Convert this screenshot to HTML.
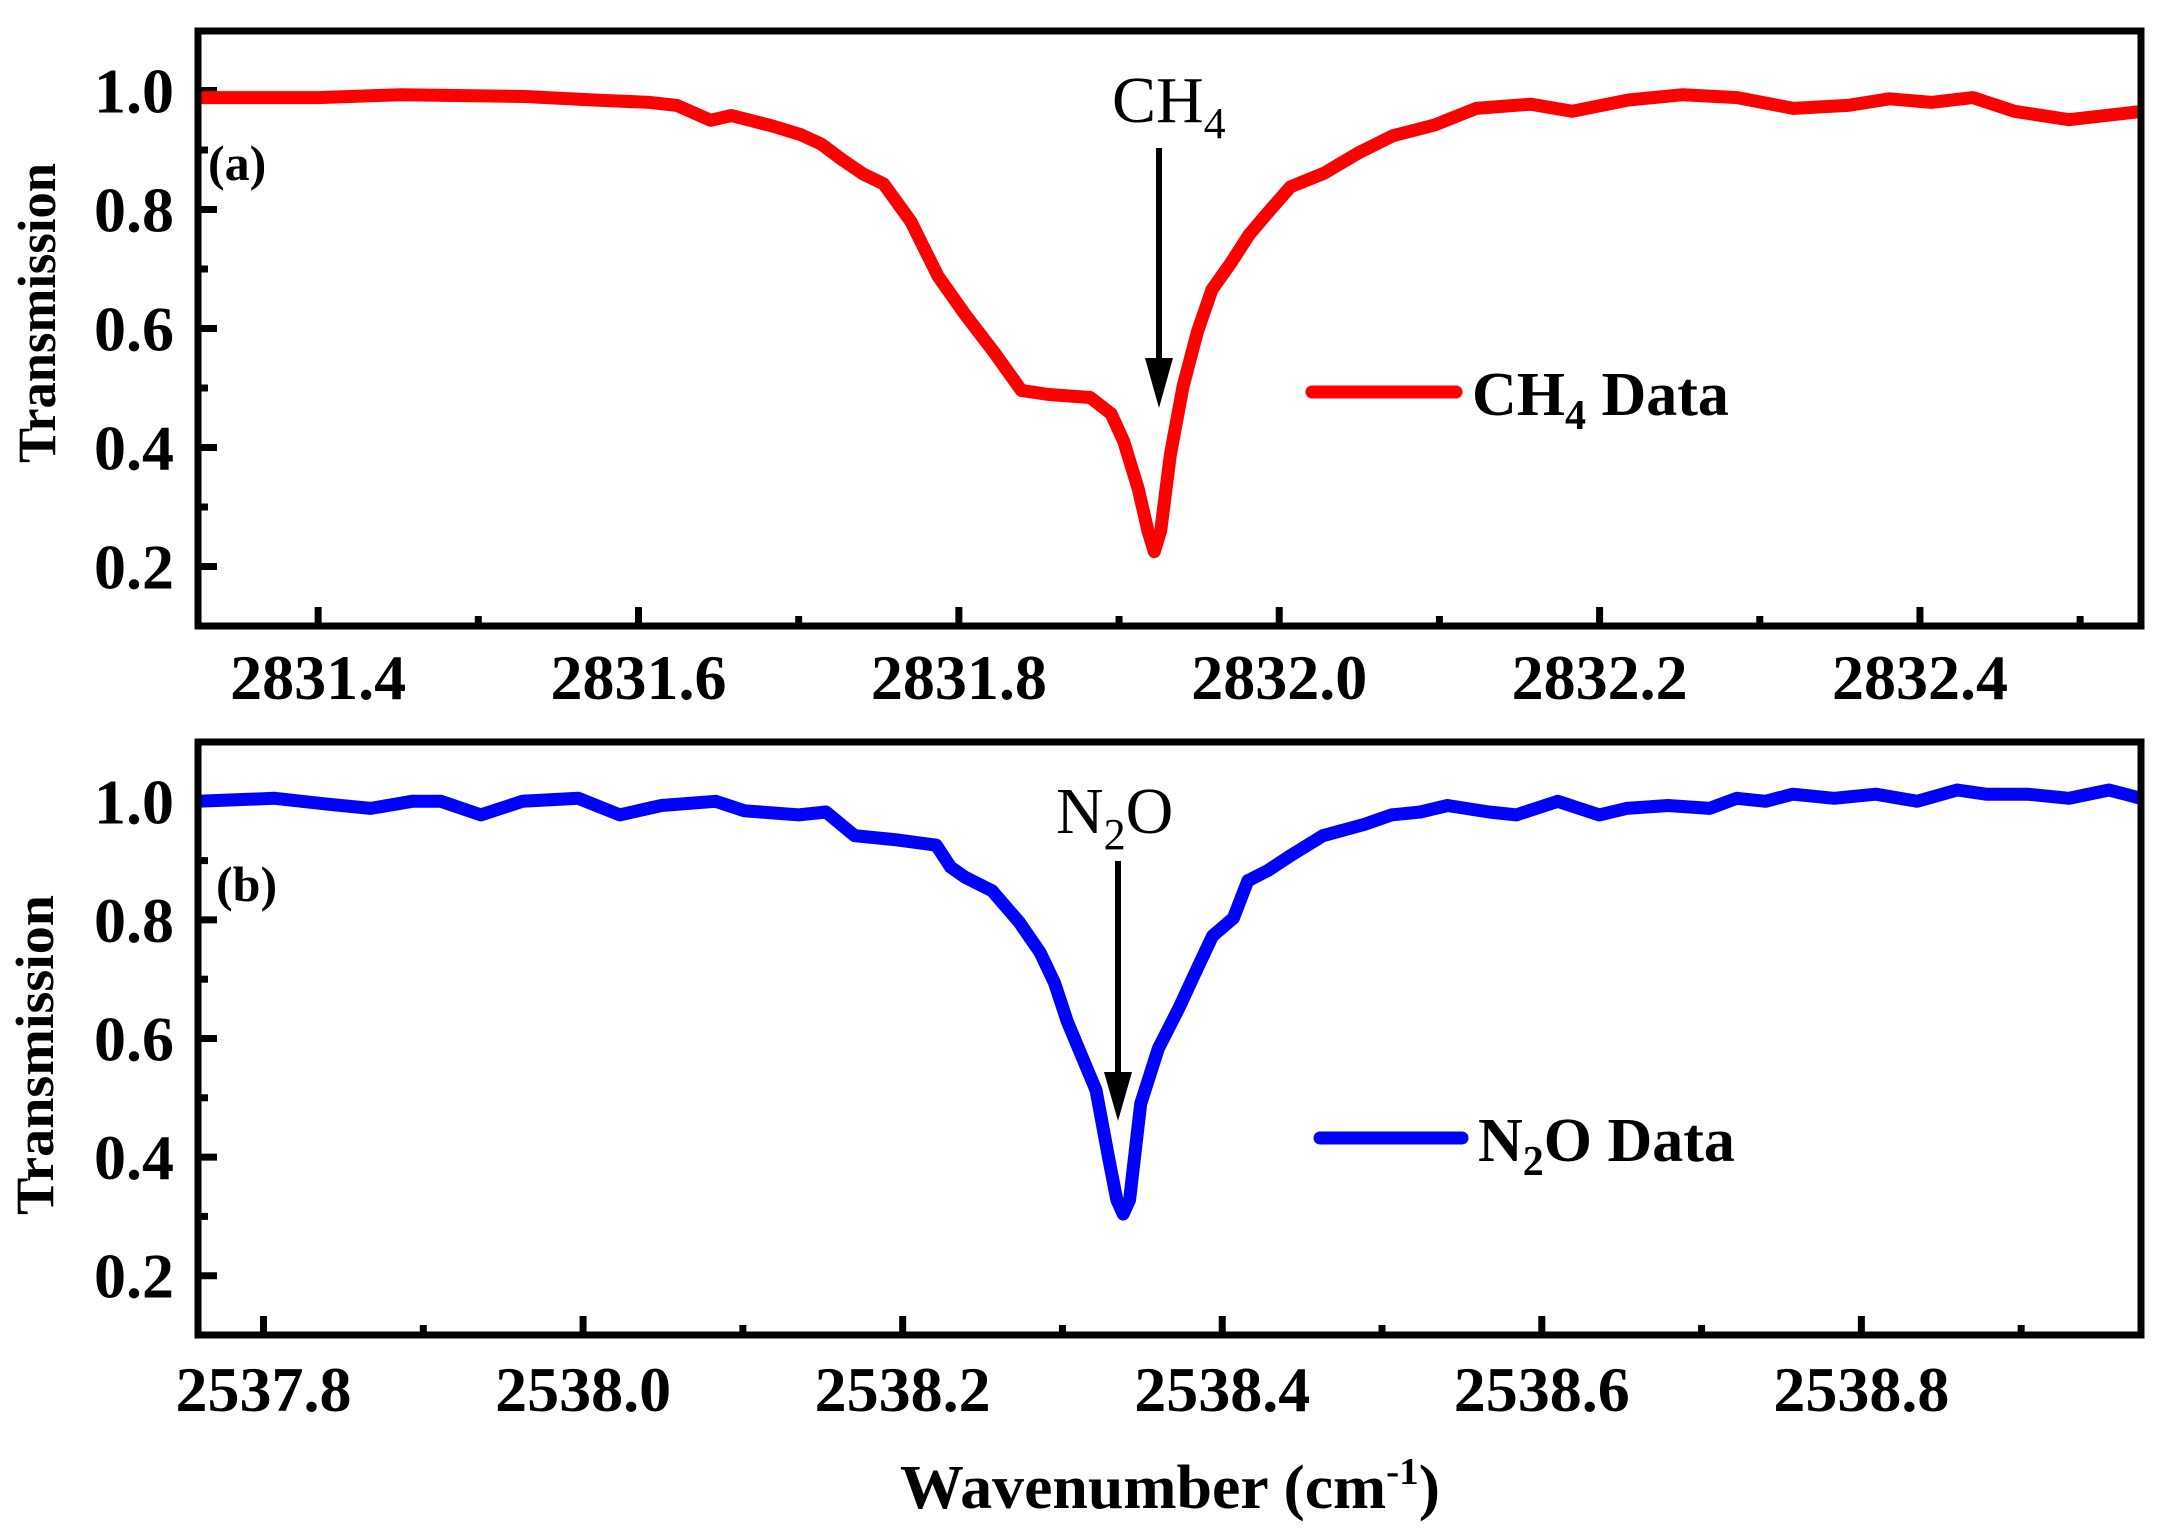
<!DOCTYPE html>
<html><head><meta charset="utf-8">
<style>
html,body{margin:0;padding:0;background:#fff;}
svg{display:block;}
text{font-family:"Liberation Serif","Times New Roman",serif;}
</style></head>
<body>
<svg id="chart" width="2162" height="1540" viewBox="0 0 2162 1540" xmlns="http://www.w3.org/2000/svg">
<defs>
<clipPath id="clipA"><rect x="198" y="31" width="1943" height="595"/></clipPath>
<clipPath id="clipB"><rect x="198" y="742" width="1943" height="593"/></clipPath>
</defs>
<g id="panelA"></g>
<g id="panelB"></g>
<text x="1170" y="1508" text-anchor="middle" font-size="62" font-weight="bold" textLength="540" lengthAdjust="spacingAndGlyphs">Wavenumber (cm<tspan dy="-24" font-size="38">-1</tspan><tspan dy="24">)</tspan></text>
</svg>
<script>
// Panel A (CH4) data
const ch4X = [2831.325,2831.4,2831.452,2831.529,2831.572,2831.607,2831.624,2831.645,2831.658,2831.684,2831.701,2831.714,2831.727,2831.740,2831.753,2831.770,2831.787,2831.804,2831.822,2831.839,2831.856,2831.882,2831.895,2831.903,2831.912,2831.918,2831.922,2831.926,2831.932,2831.940,2831.949,2831.958,2831.970,2831.981,2831.992,2832.007,2832.028,2832.050,2832.071,2832.097,2832.123,2832.157,2832.183,2832.218,2832.252,2832.286,2832.321,2832.355,2832.381,2832.407,2832.433,2832.459,2832.493,2832.539];
const ch4Y = [0.988,0.988,0.993,0.990,0.984,0.980,0.975,0.950,0.958,0.940,0.926,0.910,0.884,0.860,0.843,0.780,0.688,0.623,0.560,0.496,0.489,0.484,0.457,0.410,0.330,0.260,0.225,0.260,0.387,0.503,0.595,0.665,0.711,0.757,0.792,0.838,0.861,0.896,0.924,0.942,0.970,0.977,0.965,0.984,0.993,0.988,0.970,0.975,0.986,0.980,0.988,0.965,0.951,0.965];
// Panel B (N2O) data
const n2oX = [2537.758,2537.807,2537.841,2537.867,2537.893,2537.911,2537.936,2537.962,2537.997,2538.023,2538.049,2538.083,2538.101,2538.135,2538.152,2538.170,2538.196,2538.221,2538.230,2538.239,2538.256,2538.273,2538.286,2538.295,2538.303,2538.312,2538.321,2538.329,2538.334,2538.338,2538.342,2538.349,2538.360,2538.373,2538.385,2538.394,2538.407,2538.416,2538.429,2538.442,2538.463,2538.489,2538.506,2538.524,2538.541,2538.567,2538.584,2538.610,2538.636,2538.653,2538.679,2538.705,2538.722,2538.740,2538.757,2538.783,2538.809,2538.835,2538.860,2538.878,2538.904,2538.930,2538.955,2538.975];
const n2oY = [1.0,1.005,0.995,0.988,1.0,1.0,0.977,1.0,1.005,0.977,0.993,1.0,0.984,0.977,0.982,0.942,0.935,0.926,0.889,0.872,0.849,0.796,0.745,0.694,0.629,0.571,0.513,0.397,0.328,0.304,0.328,0.490,0.583,0.652,0.722,0.773,0.803,0.866,0.884,0.907,0.942,0.961,0.977,0.982,0.993,0.982,0.977,1.0,0.977,0.988,0.993,0.988,1.005,1.0,1.012,1.005,1.012,1.0,1.019,1.012,1.012,1.005,1.019,1.005];
const ch4XTicks = ["2831.4","2831.6","2831.8","2832.0","2832.2","2832.4"];
const n2oXTicks = ["2537.8","2538.0","2538.2","2538.4","2538.6","2538.8"];
const yTicks = ["0.2","0.4","0.6","0.8","1.0"];

const NS = "http://www.w3.org/2000/svg";
function mk(parent, tag, attrs){
  const e = document.createElementNS(NS, tag);
  for (const k in attrs) e.setAttribute(k, attrs[k]);
  parent.appendChild(e);
  return e;
}

function drawPanel(cfg){
  const g = document.getElementById(cfg.gid);
  const L=198, R=2141, T=cfg.top, B=cfg.bottom;
  const sx = v => L + (v - cfg.xmin) / (cfg.xmax - cfg.xmin) * (R - L);
  const sy = v => B - (v - 0.1) / (1.1 - 0.1) * (B - T);
  for (let v = Math.ceil(cfg.xmin*10)/10; v <= cfg.xmax + 1e-9; v += 0.1) {
    const vv = Math.round(v*10)/10;
    const major = cfg.xTicks.indexOf(vv.toFixed(1)) >= 0;
    const t = mk(g,'line',{x1:sx(vv),x2:sx(vv),y1:B,y2:B-(major?19:10),stroke:'#000','stroke-width':7});
    
    
  }
  cfg.xTicks.forEach(s => {
    const t = mk(g,'text',{x:sx(parseFloat(s)),y:cfg.xLabelY,'text-anchor':'middle','font-size':64,'font-weight':'bold'});
    t.textContent = s;
    
    
  });
  for (let i = 1; i <= 10; i++) {
    const vv = i/10;
    const major = (i % 2 === 0);
    const t = mk(g,'line',{x1:L,x2:L+(major?19:10),y1:sy(vv),y2:sy(vv),stroke:'#000','stroke-width':7});
    
    
  }
  yTicks.forEach(s => {
    const t = mk(g,'text',{x:174,y:sy(parseFloat(s))+22,'text-anchor':'end','font-size':64,'font-weight':'bold'});
    t.textContent = s;
    
    
  });
  let d = '';
  cfg.xs.forEach((x,i) => { d += (i? 'L':'M') + sx(x).toFixed(1) + ',' + sy(cfg.ys[i]).toFixed(1); });
  const p = mk(g,'path',{d:d,fill:'none',stroke:cfg.color,'stroke-width':13,'stroke-linejoin':'round','stroke-linecap':'round','clip-path':'url(#'+cfg.clip+')'});
  
  
  const f = mk(g,'rect',{x:L,y:T,width:R-L,height:B-T,fill:'none',stroke:'#000','stroke-width':7});
  
  
  const yt = mk(g,'text',{x:0,y:0,'text-anchor':'middle','font-size':54,'font-weight':'bold',transform:'translate('+cfg.yTitleX+','+cfg.yTitleY+') rotate(-90)',textLength:cfg.yTitleLen,lengthAdjust:'spacingAndGlyphs'});
  yt.textContent = 'Transmission';
  
  
}

drawPanel({gid:'panelA',top:31,bottom:626,xmin:2831.325,xmax:2832.538,xTicks:ch4XTicks,xLabelY:699,xs:ch4X,ys:ch4Y,color:'#ff0000',clip:'clipA',seriesName:'ch4-data-line',yTitleX:55,yTitleY:313,yTitleLen:300});
drawPanel({gid:'panelB',top:742,bottom:1335,xmin:2537.759,xmax:2538.975,xTicks:n2oXTicks,xLabelY:1411,xs:n2oX,ys:n2oY,color:'#0000ff',clip:'clipB',seriesName:'n2o-data-line',yTitleX:53,yTitleY:1055,yTitleLen:320});
</script>
<svg style="position:absolute;left:0;top:0" width="2162" height="1540" viewBox="0 0 2162 1540" xmlns="http://www.w3.org/2000/svg">
  <text x="208" y="180" font-size="50" font-weight="bold" font-family="Liberation Serif, serif">(a)</text>
  <text x="216" y="901" font-size="50" font-weight="bold" font-family="Liberation Serif, serif">(b)</text>
  <g>
    <text x="1112" y="122" font-size="66" font-family="Liberation Serif, serif">CH<tspan dy="16" font-size="44">4</tspan></text>
    <line x1="1159" y1="148" x2="1159" y2="365" stroke="#000" stroke-width="6"/>
    <polygon points="1145,358 1173,358 1159,408" fill="#000"/>
  </g>
  <g>
    <text x="1056" y="833" font-size="66" font-family="Liberation Serif, serif">N<tspan dy="16" font-size="44">2</tspan><tspan dy="-16">O</tspan></text>
    <line x1="1118" y1="861" x2="1118" y2="1078" stroke="#000" stroke-width="6"/>
    <polygon points="1104,1072 1132,1072 1118,1121" fill="#000"/>
  </g>
  <g>
    <line x1="1312" y1="392" x2="1456" y2="392" stroke="#ff0000" stroke-width="13" stroke-linecap="round"/>
    <text x="1472" y="415" font-size="62" font-weight="bold" font-family="Liberation Serif, serif">CH<tspan dy="14" font-size="42">4</tspan><tspan dy="-14"> Data</tspan></text>
  </g>
  <g>
    <line x1="1320" y1="1138" x2="1462" y2="1138" stroke="#0000ff" stroke-width="13" stroke-linecap="round"/>
    <text x="1478" y="1161" font-size="62" font-weight="bold" font-family="Liberation Serif, serif">N<tspan dy="14" font-size="42">2</tspan><tspan dy="-14">O Data</tspan></text>
  </g>
</svg>
</body></html>
